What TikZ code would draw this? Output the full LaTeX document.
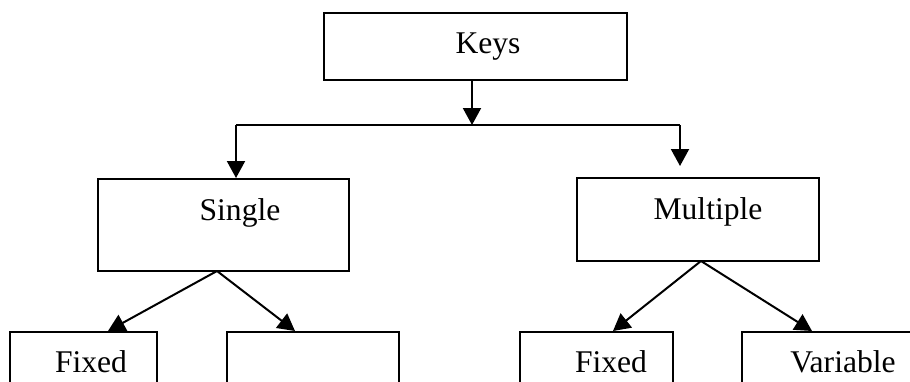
\documentclass[tikz,border=0pt]{standalone}
\usepackage{fontspec}
\setmainfont{Liberation Serif}
\usetikzlibrary{arrows.meta}

\begin{document}
\begin{tikzpicture}[x=0.5pt,y=-0.5pt,
    box/.style={draw,line width=1pt,rectangle,inner sep=0pt},
    txt/.style={anchor=base,inner sep=0pt,font=\fontsize{15.8pt}{19pt}\selectfont},
    arr/.style={line width=1pt,-{Triangle[length=8.5pt,width=9pt]}}]

    % page frame, the bottom row runs off the edge
    \useasboundingbox (0,0) rectangle (910,381);
    \clip (0,0) rectangle (910,381);

    % top and middle boxes
    \node[box,minimum width=151.5pt,minimum height=33.5pt] (keys) at (475.5,46.5) {};
    \node[box,minimum width=125.5pt,minimum height=46pt] (single) at (223.5,225) {};
    \node[box,minimum width=121pt,minimum height=41.5pt] (multiple) at (698,219.5) {};

    % bottom row
    \foreach \name/\cx/\w in {sfixed/83.5/147, sblank/313/172, mfixed/596.5/153, mvar/851/218} {
      \node[box,minimum width=\w*0.5pt,minimum height=44pt] (\name) at (\cx,376) {};
    }

    % labels
    \node[txt] (keys-t) at (488,53) {Keys};
    \node[txt] (single-t) at (240,220) {Single};
    \node[txt] (multiple-t) at (708,219) {Multiple};
    \node[txt] (sfixed-t) at (91,372) {Fixed};
    \node[txt] (mfixed-t) at (611,372) {Fixed};
    \node[txt] (mvar-t) at (843,372) {Variable};

    % split under Keys
    \coordinate (fork) at (472,125);
    \coordinate (lturn) at (236,125);
    \coordinate (rturn) at (680,125);
    \draw[arr] (keys.south -| fork) -- (fork);
    \draw[line width=1pt] (lturn) -- (rturn);
    \draw[arr] (lturn) -- (lturn |- single.north);
    \draw[arr,shorten >=5.5pt] (rturn) -- (rturn |- multiple.north);

    % branches of Single and Multiple
    \coordinate (sfoot) at (217,271);
    \coordinate (mfoot) at (701,261);
    \coordinate (sl) at (108,332);
    \coordinate (sr) at (295,332);
    \coordinate (ml) at (613,331);
    \coordinate (mr) at (812,331);
    \draw[arr] (sfoot) -- (sfixed.north -| sl);
    \draw[arr] (sfoot) -- (sblank.north -| sr);
    \draw[arr] (mfoot) -- (mfixed.north -| ml);
    \draw[arr] (mfoot) -- (mvar.north -| mr);

\end{tikzpicture}
\end{document}
